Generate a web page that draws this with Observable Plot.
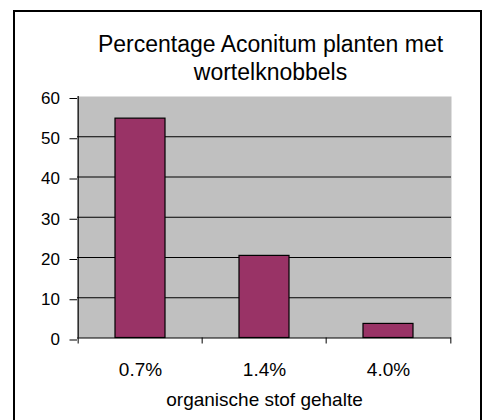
<!DOCTYPE html>
<html>
<head>
<meta charset="utf-8">
<script src="https://cdn.jsdelivr.net/npm/d3@7"></script>
<script src="https://cdn.jsdelivr.net/npm/@observablehq/plot@0.6"></script>
<style>
  html, body { margin: 0; padding: 0; background: #fff; }
  #wrap { position: relative; width: 484px; height: 420px; overflow: hidden; font-family: "Liberation Sans", Arial, sans-serif; }
  #border { position: absolute; left: 13px; top: 10px; width: 469px; height: 430px; border: 2px solid #000; box-sizing: border-box; pointer-events: none; }
  #wrap svg { position: absolute; left: 0; top: 0; }
</style>
</head>
<body>
<div id="wrap"><div id="border"></div></div>
<script>
const categories = ["0.7%", "1.4%", "4.0%"];
const values = [54.5, 20.4, 3.5];
const yTicks = [0, 10, 20, 30, 40, 50, 60];
const gridValues = [10, 20, 30, 40, 50];
const titleLines = ["Percentage Aconitum planten met", "wortelknobbels"];
const xLabel = "organische stof gehalte";

const data = categories.map((c, i) => ({cat: c, value: values[i]}));

const W = 484, H = 420;
const mL = 77, mR = 33, mT = 96, mB = 82.5;
const half = (W - mL - mR) / categories.length / 2;

const chart = Plot.plot({
  width: W,
  height: H,
  marginLeft: mL,
  marginRight: mR,
  marginTop: mT,
  marginBottom: mB,
  style: {fontFamily: "'Liberation Sans', Arial, sans-serif", background: "transparent", overflow: "visible"},
  x: {domain: categories, paddingInner: 0.6, paddingOuter: 0.3, align: 0.5, label: null},
  y: {domain: [0, 60], label: null},
  marks: [
    Plot.frame({fill: "#c0c0c0", stroke: "none"}),
    Plot.ruleY(gridValues, {stroke: "#000", strokeWidth: 1}),
    Plot.barY(data, {x: "cat", y: "value", fill: "#993366", stroke: "#000", strokeWidth: 1.2}),
    Plot.ruleY([0], {stroke: "#000", strokeWidth: 1.2}),
    Plot.ruleX([categories[0]], {y1: 0, y2: 60, dx: -half, stroke: "#000", strokeWidth: 1.2}),
    Plot.axisY({ticks: yTicks, tickSize: 7.5, tickPadding: 10, fontSize: 17, dy: 2, stroke: "#000", color: "#000", label: null, tickFormat: d => String(d)}),
    Plot.axisX({tickSize: 6, text: null, dx: -half, stroke: "#000"}),
    Plot.axisX({ticks: [categories[categories.length - 1]], tickSize: 6, text: null, dx: half, stroke: "#000"}),
    Plot.axisX({tickSize: 0, tickPadding: 24, fontSize: 19, label: null, color: "#000"}),
    Plot.text([xLabel], {frameAnchor: "bottom", text: d => d, dy: 68, fontSize: 19, fill: "#000"}),
    Plot.text([titleLines.join("\n")], {frameAnchor: "top", text: d => d, lineAnchor: "top", lineHeight: 1.2, dy: -64, dx: 6, fontSize: 23, fill: "#000"})
  ]
});
document.getElementById("wrap").insertBefore(chart, document.getElementById("border"));
</script>
</body>
</html>
